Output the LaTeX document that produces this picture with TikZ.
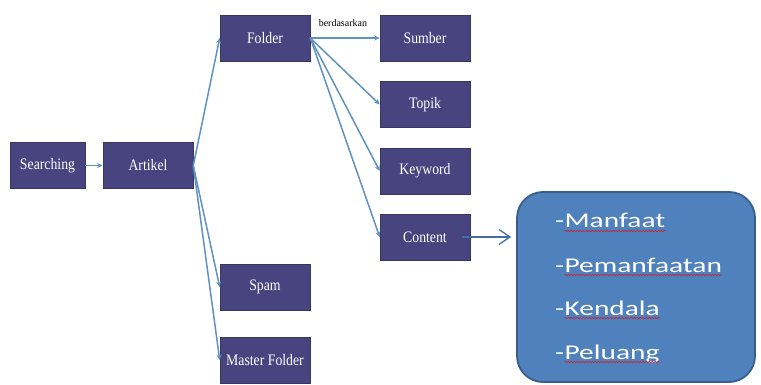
\documentclass[tikz,border=0pt]{standalone}
\usepackage{fontspec}
\setmainfont{Liberation Serif}
\newfontfamily\listfont[FakeStretch=1.4]{Carlito}
\newfontfamily\boxfont[FakeStretch=0.86]{Liberation Serif}
\usetikzlibrary{arrows.meta,decorations.pathmorphing}
\definecolor{boxfill}{HTML}{48447F}
\definecolor{boxline}{HTML}{3A375F}
\definecolor{link}{HTML}{5F92C0}
\definecolor{panel}{HTML}{4F81BD}
\definecolor{panelline}{HTML}{385D8A}
\definecolor{wavy}{HTML}{D02030}
\tikzset{
  x=1pt, y=-1pt,
  stepbox/.style={draw=boxline, line width=0.6pt, fill=boxfill, text=white,
    minimum width=90pt, minimum height=46pt, inner sep=0pt,
    font=\boxfont\fontsize{16}{18}\selectfont},
  link/.style={draw=link, line width=1.5pt, -{Stealth[length=5.5pt,width=5pt]}},
  item/.style={text=white, inner sep=0pt, anchor=base west,
    font=\listfont\fontsize{21}{24}\selectfont},
  spell/.style={draw=wavy, line width=0.6pt,
    decorate, decoration={snake, amplitude=0.7pt, segment length=3pt}}
}
\begin{document}
\begin{tikzpicture}
\useasboundingbox (0,0) rectangle (761,385);

% main boxes
\node[stepbox, minimum width=75pt] (search) at (47.5,165.5) {Searching};
\node[stepbox] (artikel) at (148,165.5) {Artikel};
\node[stepbox] (folder)  at (265,38)  {Folder};
\node[stepbox] (spam)    at (265,287) {Spam};
\node[stepbox] (master)  at (265,360) {Master Folder};
\node[stepbox] (sumber)  at (425,38)  {Sumber};
\node[stepbox] (topik)   at (425,104.5) {Topik};
\node[stepbox] (keyword) at (425,171) {Keyword};
\node[stepbox] (content) at (425,237) {Content};

% connectors
\draw[link] (search) -- (artikel);
\draw[link] (artikel.east) -- (folder.west);
\draw[link] (artikel.east) -- (spam.west);
\draw[link] (artikel.east) -- (master.west);
\draw[link] (folder.east) -- node[above, pos=0.47, yshift=7pt, text=black,
  font=\fontsize{10}{12}\selectfont] (lbl) {berdasarkan} (sumber.west);
\draw[link] (folder.east) -- (topik.west);
\draw[link] (folder.east) -- (keyword.west);
\draw[link] (folder.east) -- (content.west);

% detail panel
\node[draw=panelline, line width=1.8pt, fill=panel, rounded corners=26pt,
  minimum width=238pt, minimum height=190pt] (panel) at (636,287) {};
\draw[draw=panel!85!black, line width=1.3pt,
  -{Straight Barb[length=11pt,width=15pt]}]
  ([xshift=-8pt]content.east) -- ([xshift=-5pt]panel.west |- content.east);

% list entries
\node[item] (h1) at (555,228) {-};
\node[item] (w1) at (h1.base east) {Manfaat};
\node[item] (h2) at (555,272) {-};
\node[item] (w2) at (h2.base east) {Pemanfaatan};
\node[item] (h3) at (555,315) {-};
\node[item] (w3) at (h3.base east) {Kendala};
\node[item] (h4) at (555,359) {-};
\node[item] (w4) at (h4.base east) {Peluang};
\foreach \w in {w1,w2,w3,w4}
  \draw[spell] ([yshift=-3pt]\w.base west) -- ([yshift=-3pt]\w.base east);
\end{tikzpicture}
\end{document}
